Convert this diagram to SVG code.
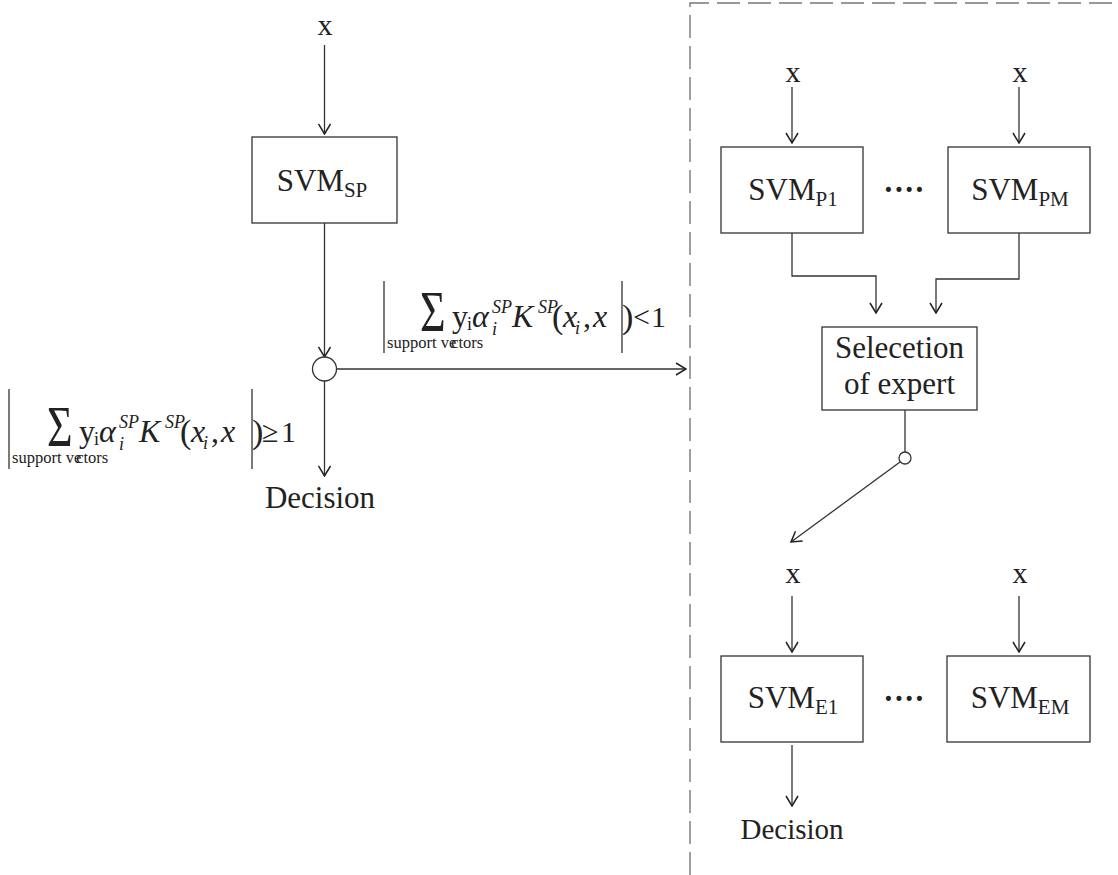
<svg xmlns="http://www.w3.org/2000/svg" width="1118" height="875" viewBox="0 0 1118 875">
  <style>
    .t { font-family: "Liberation Serif", "Times New Roman", serif; fill: #222; }
    .lbl { font-size: 30px; }
    .main { font-size: 31px; }
    .sub { font-size: 21px; }
    .fm { font-size: 32px; }
    .fs { font-size: 18px; }
    .it { font-style: italic; }
    .sv { font-size: 16.5px; }
    .dots { font-size: 31px; font-weight: bold; }
    .box { fill: #fff; stroke: #333; stroke-width: 1.3; }
    .ln { fill: none; stroke: #333; stroke-width: 1.3; }
    .bar { stroke: #333; stroke-width: 1.3; }
    .dash { fill: none; stroke: #777; stroke-width: 1.4; stroke-dasharray: 23 8; }
  </style>
  <defs>
    <marker id="arr" viewBox="0 0 12 14" refX="11" refY="7" markerWidth="12" markerHeight="14" orient="auto" markerUnits="userSpaceOnUse">
      <path d="M1,1 L11,7 L1,13" fill="none" stroke="#222" stroke-width="1.5"/>
    </marker>
  </defs>
  <rect width="1118" height="875" fill="#fff"/>

  <!-- dashed boundary of the expert stage -->
  <path class="dash" d="M690,875 V3 H1118"/>

  <!-- connectors -->
  <g id="connectors">
    <line class="ln" x1="324.5" y1="45" x2="324.5" y2="134" marker-end="url(#arr)"/>
    <line class="ln" x1="324.5" y1="223" x2="324.5" y2="357" marker-end="url(#arr)"/>
    <line class="ln" x1="336.5" y1="369" x2="686" y2="369" marker-end="url(#arr)"/>
    <line class="ln" x1="324.5" y1="381" x2="324.5" y2="476" marker-end="url(#arr)"/>

    <line class="ln" x1="792" y1="87" x2="792" y2="143" marker-end="url(#arr)"/>
    <line class="ln" x1="1019" y1="87" x2="1019" y2="143" marker-end="url(#arr)"/>
    <polyline class="ln" points="792,233 792,276 876,276 876,313" marker-end="url(#arr)"/>
    <polyline class="ln" points="1019,233 1019,279 936,279 936,313" marker-end="url(#arr)"/>
    <line class="ln" x1="905" y1="410" x2="905" y2="452"/>
    <line class="ln" x1="900" y1="462" x2="791" y2="542" marker-end="url(#arr)"/>

    <line class="ln" x1="792" y1="596" x2="792" y2="652" marker-end="url(#arr)"/>
    <line class="ln" x1="1019" y1="596" x2="1019" y2="652" marker-end="url(#arr)"/>
    <line class="ln" x1="792" y1="745" x2="792" y2="806" marker-end="url(#arr)"/>
  </g>

  <!-- single-stage classifier -->
  <g id="input-sp">
    <text class="t lbl" x="325" y="35" text-anchor="middle">x</text>
  </g>
  <g id="svm-sp">
    <rect class="box" x="252" y="137" width="145" height="86"/>
    <text class="t main" x="322" y="191" text-anchor="middle">SVM<tspan class="sub" dy="6">SP</tspan></text>
  </g>
  <g id="junction">
    <circle class="box" cx="324.5" cy="369" r="12"/>
  </g>
  <g id="decision-sp">
    <text class="t" font-size="31" x="320" y="508" text-anchor="middle">Decision</text>
  </g>

  <!-- condition |sum| < 1 -->
  <g id="cond-less">
    <line class="bar" x1="384" y1="281" x2="384" y2="353"/>
    <text class="t" font-size="44" transform="translate(420,331) scale(1,1.32)">Σ</text>
    <text class="t fm" x="452" y="327">y</text>
    <text class="t fs" x="467" y="330">i</text>
    <text class="t fm it" x="472" y="327">α</text>
    <text class="t fs it" x="492" y="313">SP</text>
    <text class="t fs it" x="492" y="335">i</text>
    <text class="t fm it" x="512" y="327">K</text>
    <text class="t fs it" x="538" y="313">SP</text>
    <text class="t" font-size="34" x="552" y="328">(</text>
    <text class="t fm it" x="563" y="327">x</text>
    <text class="t fs it" x="575" y="334">i</text>
    <text class="t fm" x="583" y="327">,</text>
    <text class="t fm it" x="593" y="327">x</text>
    <line class="bar" x1="622" y1="281" x2="622" y2="353"/>
    <text class="t" font-size="34" x="622" y="328">)</text>
    <text class="t" x="633" y="327" font-size="30">&lt;</text>
    <text class="t" x="651" y="327" font-size="30">1</text>
    <text class="t sv" x="387" y="348">support ve<tspan dx="-5">c</tspan>tors</text>
  </g>

  <!-- condition |sum| >= 1 -->
  <g id="cond-geq">
    <line class="bar" x1="9" y1="389" x2="9" y2="469"/>
    <text class="t" font-size="44" transform="translate(47,446) scale(1,1.32)">Σ</text>
    <text class="t fm" x="79" y="442">y</text>
    <text class="t fs" x="94" y="445">i</text>
    <text class="t fm it" x="99" y="442">α</text>
    <text class="t fs it" x="119" y="428">SP</text>
    <text class="t fs it" x="119" y="450">i</text>
    <text class="t fm it" x="139" y="442">K</text>
    <text class="t fs it" x="165" y="428">SP</text>
    <text class="t" font-size="34" x="180" y="443">(</text>
    <text class="t fm it" x="191" y="442">x</text>
    <text class="t fs it" x="203" y="449">i</text>
    <text class="t fm" x="211" y="442">,</text>
    <text class="t fm it" x="221" y="442">x</text>
    <line class="bar" x1="252" y1="389" x2="252" y2="469"/>
    <text class="t" font-size="34" x="252" y="443">)</text>
    <text class="t" x="262" y="442" font-size="30">≥</text>
    <text class="t" x="281" y="442" font-size="30">1</text>
    <text class="t sv" x="12" y="463">support ve<tspan dx="-5">c</tspan>tors</text>
  </g>

  <!-- expert stage: pre-classifiers -->
  <g id="input-p1">
    <text class="t lbl" x="793" y="82" text-anchor="middle">x</text>
  </g>
  <g id="input-pm">
    <text class="t lbl" x="1020" y="82" text-anchor="middle">x</text>
  </g>
  <g id="svm-p1">
    <rect class="box" x="721" y="147" width="142" height="86"/>
    <text class="t main" x="793" y="200" text-anchor="middle">SVM<tspan class="sub" dy="6">P1</tspan></text>
  </g>
  <g id="dots-p">
    <text class="t dots" x="904" y="200" text-anchor="middle">····</text>
  </g>
  <g id="svm-pm">
    <rect class="box" x="948" y="147" width="142" height="86"/>
    <text class="t main" x="1020" y="200" text-anchor="middle">SVM<tspan class="sub" dy="6">PM</tspan></text>
  </g>

  <!-- expert selection -->
  <g id="selection">
    <rect class="box" x="822" y="327" width="155" height="83"/>
    <text class="t main" x="899.5" y="358" text-anchor="middle">Selecetion</text>
    <text class="t main" x="899.5" y="394" text-anchor="middle">of expert</text>
  </g>
  <g id="switch">
    <circle class="box" cx="905" cy="458" r="6"/>
  </g>

  <!-- expert stage: experts -->
  <g id="input-e1">
    <text class="t lbl" x="793" y="583" text-anchor="middle">x</text>
  </g>
  <g id="input-em">
    <text class="t lbl" x="1020" y="583" text-anchor="middle">x</text>
  </g>
  <g id="svm-e1">
    <rect class="box" x="721" y="656" width="142" height="86"/>
    <text class="t main" x="793" y="708" text-anchor="middle">SVM<tspan class="sub" dy="6">E1</tspan></text>
  </g>
  <g id="dots-e">
    <text class="t dots" x="904" y="709" text-anchor="middle">····</text>
  </g>
  <g id="svm-em">
    <rect class="box" x="947" y="656" width="143" height="86"/>
    <text class="t main" x="1020" y="708" text-anchor="middle">SVM<tspan class="sub" dy="6">EM</tspan></text>
  </g>
  <g id="decision-e">
    <text class="t" font-size="29" x="792" y="839" text-anchor="middle">Decision</text>
  </g>
</svg>
